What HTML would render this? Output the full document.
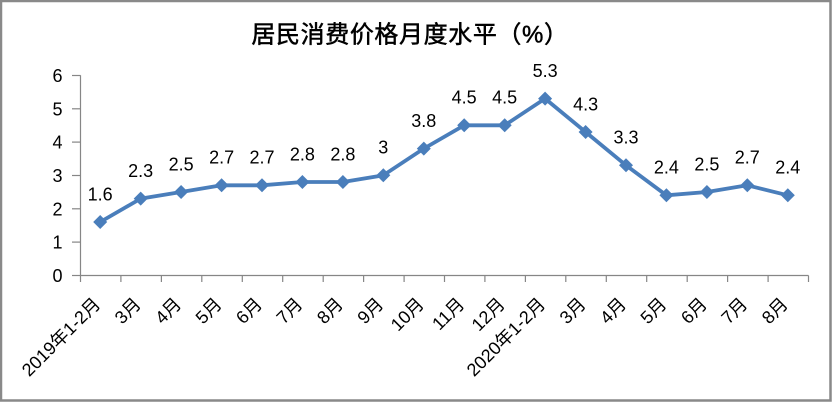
<!DOCTYPE html>
<html>
<head>
<meta charset="utf-8">
<style>
html,body{margin:0;padding:0;background:#fff;}
svg{display:block;}
</style>
</head>
<body>
<svg width="832" height="402" viewBox="0 0 832 402" xmlns="http://www.w3.org/2000/svg">
  <rect x="0" y="0" width="832" height="402" fill="#ffffff"/>
  <rect x="1" y="1" width="829.5" height="399.5" fill="none" stroke="#898989" stroke-width="2.5"/>

  <!-- Title -->
  <text x="410" y="42.5" text-anchor="middle" font-family="'Liberation Sans','Noto Sans CJK SC',sans-serif" font-size="24" letter-spacing="0.6" fill="#000" stroke="#000" stroke-width="0.5">居民消费价格月度水平（%）</text>

  <!-- Axes -->
  <g stroke="#868686" stroke-width="1.2" fill="none">
    <line x1="80.5" y1="75.3" x2="80.5" y2="275.5"/>
    <line x1="80" y1="275.5" x2="808.5" y2="275.5"/>
    <line x1="72" y1="75.5" x2="80.5" y2="75.5"/>
    <line x1="72" y1="108.8" x2="80.5" y2="108.8"/>
    <line x1="72" y1="142.1" x2="80.5" y2="142.1"/>
    <line x1="72" y1="175.5" x2="80.5" y2="175.5"/>
    <line x1="72" y1="208.8" x2="80.5" y2="208.8"/>
    <line x1="72" y1="242.1" x2="80.5" y2="242.1"/>
    <line x1="72" y1="275.5" x2="80.5" y2="275.5"/>
    <line x1="80.5" y1="275.5" x2="80.5" y2="282"/>
    <line x1="120.9" y1="275.5" x2="120.9" y2="282"/>
    <line x1="161.4" y1="275.5" x2="161.4" y2="282"/>
    <line x1="201.8" y1="275.5" x2="201.8" y2="282"/>
    <line x1="242.3" y1="275.5" x2="242.3" y2="282"/>
    <line x1="282.7" y1="275.5" x2="282.7" y2="282"/>
    <line x1="323.2" y1="275.5" x2="323.2" y2="282"/>
    <line x1="363.6" y1="275.5" x2="363.6" y2="282"/>
    <line x1="404.1" y1="275.5" x2="404.1" y2="282"/>
    <line x1="444.5" y1="275.5" x2="444.5" y2="282"/>
    <line x1="484.9" y1="275.5" x2="484.9" y2="282"/>
    <line x1="525.4" y1="275.5" x2="525.4" y2="282"/>
    <line x1="565.8" y1="275.5" x2="565.8" y2="282"/>
    <line x1="606.3" y1="275.5" x2="606.3" y2="282"/>
    <line x1="646.7" y1="275.5" x2="646.7" y2="282"/>
    <line x1="687.2" y1="275.5" x2="687.2" y2="282"/>
    <line x1="727.6" y1="275.5" x2="727.6" y2="282"/>
    <line x1="768.1" y1="275.5" x2="768.1" y2="282"/>
    <line x1="808.5" y1="275.5" x2="808.5" y2="282"/>
  </g>

  <!-- Y tick labels -->
  <g font-family="'Liberation Sans',sans-serif" font-size="18" fill="#000" text-anchor="end" dominant-baseline="central">
    <text x="62.5" y="76">6</text>
    <text x="62.5" y="109.3">5</text>
    <text x="62.5" y="142.6">4</text>
    <text x="62.5" y="176">3</text>
    <text x="62.5" y="209.3">2</text>
    <text x="62.5" y="242.6">1</text>
    <text x="62.5" y="276">0</text>
  </g>

  <!-- X labels rotated -->
  <g font-family="'Liberation Sans','Noto Sans CJK SC',sans-serif" font-size="18" fill="#000" text-anchor="end" dominant-baseline="central">
    <text transform="translate(97.2,301) rotate(-45)">2019年1-2月</text>
    <text transform="translate(137.7,301) rotate(-45)">3月</text>
    <text transform="translate(178.1,301) rotate(-45)">4月</text>
    <text transform="translate(218.6,301) rotate(-45)">5月</text>
    <text transform="translate(259,301) rotate(-45)">6月</text>
    <text transform="translate(299.4,301) rotate(-45)">7月</text>
    <text transform="translate(339.9,301) rotate(-45)">8月</text>
    <text transform="translate(380.3,301) rotate(-45)">9月</text>
    <text transform="translate(420.8,301) rotate(-45)">10月</text>
    <text transform="translate(461.2,301) rotate(-45)">11月</text>
    <text transform="translate(501.7,301) rotate(-45)">12月</text>
    <text transform="translate(542.1,301) rotate(-45)">2020年1-2月</text>
    <text transform="translate(582.6,301) rotate(-45)">3月</text>
    <text transform="translate(623,301) rotate(-45)">4月</text>
    <text transform="translate(663.4,301) rotate(-45)">5月</text>
    <text transform="translate(703.9,301) rotate(-45)">6月</text>
    <text transform="translate(744.3,301) rotate(-45)">7月</text>
    <text transform="translate(784.8,301) rotate(-45)">8月</text>
  </g>

  <!-- Series line -->
  <polyline fill="none" stroke="#4a7ebb" stroke-width="3.8" stroke-linejoin="round"
    points="100.2,222 140.7,198.6 181.1,192 221.6,185.3 262,185.3 302.4,182 342.9,182 383.3,175.3 423.8,148.6 464.2,125.3 504.7,125.3 545.1,98.6 585.6,132 626,165.3 666.4,195.3 706.9,192 747.3,185.3 787.8,195.3"/>

  <!-- Markers -->
  <g fill="#4a7ebb">
    <path d="M100.2,215 L107.2,222 L100.2,229 L93.2,222 Z"/>
    <path d="M140.7,191.6 L147.7,198.6 L140.7,205.6 L133.7,198.6 Z"/>
    <path d="M181.1,185 L188.1,192 L181.1,199 L174.1,192 Z"/>
    <path d="M221.6,178.3 L228.6,185.3 L221.6,192.3 L214.6,185.3 Z"/>
    <path d="M262,178.3 L269,185.3 L262,192.3 L255,185.3 Z"/>
    <path d="M302.4,175 L309.4,182 L302.4,189 L295.4,182 Z"/>
    <path d="M342.9,175 L349.9,182 L342.9,189 L335.9,182 Z"/>
    <path d="M383.3,168.3 L390.3,175.3 L383.3,182.3 L376.3,175.3 Z"/>
    <path d="M423.8,141.6 L430.8,148.6 L423.8,155.6 L416.8,148.6 Z"/>
    <path d="M464.2,118.3 L471.2,125.3 L464.2,132.3 L457.2,125.3 Z"/>
    <path d="M504.7,118.3 L511.7,125.3 L504.7,132.3 L497.7,125.3 Z"/>
    <path d="M545.1,91.6 L552.1,98.6 L545.1,105.6 L538.1,98.6 Z"/>
    <path d="M585.6,125 L592.6,132 L585.6,139 L578.6,132 Z"/>
    <path d="M626,158.3 L633,165.3 L626,172.3 L619,165.3 Z"/>
    <path d="M666.4,188.3 L673.4,195.3 L666.4,202.3 L659.4,195.3 Z"/>
    <path d="M706.9,185 L713.9,192 L706.9,199 L699.9,192 Z"/>
    <path d="M747.3,178.3 L754.3,185.3 L747.3,192.3 L740.3,185.3 Z"/>
    <path d="M787.8,188.3 L794.8,195.3 L787.8,202.3 L780.8,195.3 Z"/>
  </g>

  <!-- Data labels -->
  <g font-family="'Liberation Sans',sans-serif" font-size="18" fill="#000" text-anchor="middle">
    <text x="100.2" y="200.3">1.6</text>
    <text x="140.7" y="176.9">2.3</text>
    <text x="181.1" y="170.3">2.5</text>
    <text x="221.6" y="163.6">2.7</text>
    <text x="262" y="163.6">2.7</text>
    <text x="302.4" y="160.3">2.8</text>
    <text x="342.9" y="160.3">2.8</text>
    <text x="383.3" y="153.6">3</text>
    <text x="423.8" y="126.9">3.8</text>
    <text x="464.2" y="103.6">4.5</text>
    <text x="504.7" y="103.6">4.5</text>
    <text x="545.1" y="76.9">5.3</text>
    <text x="585.6" y="110.3">4.3</text>
    <text x="626" y="143.6">3.3</text>
    <text x="666.4" y="173.6">2.4</text>
    <text x="706.9" y="170.3">2.5</text>
    <text x="747.3" y="163.6">2.7</text>
    <text x="787.8" y="173.6">2.4</text>
  </g>
</svg>
</body>
</html>
